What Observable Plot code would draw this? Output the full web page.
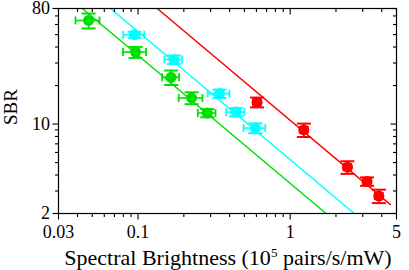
<!DOCTYPE html>
<html><head><meta charset="utf-8">
<script src="https://cdn.jsdelivr.net/npm/d3@7"></script>
<script src="https://cdn.jsdelivr.net/npm/@observablehq/plot@0.6"></script>
<style>body{margin:0;background:#fff} svg{display:block}</style>
</head><body><div id="chart"></div>
<script>
// ---- data ----
const greenX    = [0.0473, 0.0963, 0.165, 0.225, 0.285];
const greenY    = [64.5, 36.5, 23.2, 16.0, 12.2];
const greenXErr = [0.0085, 0.0166, 0.021, 0.040, 0.038];
const greenYErr = [8.6, 3.6, 3.0, 1.7, 0.9];

const cyanX    = [0.0949, 0.172, 0.343, 0.44, 0.59];
const cyanY    = [49.9, 31.9, 17.3, 12.4, 9.3];
const cyanXErr = [0.015, 0.023, 0.056, 0.060, 0.096];
const cyanYErr = [2.7, 2.4, 1.3, 0.93, 0.82];

const redX    = [0.606, 1.23, 2.38, 3.20, 3.83];
const redY    = [14.8, 9.0, 4.6, 3.56, 2.74];
const redXErr = [0.036, 0.074, 0.14, 0.19, 0.23];
const redYErr = [1.3, 1.08, 0.52, 0.27, 0.33];

// fit lines: SBR = a / x, drawn over [fitXStart, fitXEnd]
const fitNames  = ["green", "cyan", "red"];
const fitA      = [3.44, 5.27, 10.7];
const fitXStart = [0.03, 0.03, 0.03];
const fitXEnd   = [5, 5, 4.56];

const xMajorTicks  = [0.03, 0.1, 1, 5];
const xMajorLabels = ["0.03", "0.1", "1", "5"];
const xMinorTicks  = [0.04, 0.05, 0.06, 0.07, 0.08, 0.09, 0.2, 0.3, 0.4, 0.5, 0.6, 0.7, 0.8, 0.9, 2, 3, 4];
const yMajorTicks  = [2, 10, 80];
const yMajorLabels = ["2", "10", "80"];
const yMinorTicks  = [3, 4, 5, 6, 7, 8, 9, 20, 30, 40, 50, 60, 70];

const xLabel = ["Spectral Brightness (10", "5", " pairs/s/mW)"];
const yLabel = "SBR";

// ---- build tables ----
const colors = {green: "#00e000", cyan: "#00ffff", red: "#ff0000"};
const series = [
  {name: "green", x: greenX, y: greenY, xe: greenXErr, ye: greenYErr},
  {name: "cyan",  x: cyanX,  y: cyanY,  xe: cyanXErr,  ye: cyanYErr},
  {name: "red",   x: redX,   y: redY,   xe: redXErr,   ye: redYErr}
];
const pts = series.flatMap(s => s.x.map((x, i) => ({
  color: colors[s.name], x, y: s.y[i], x1: x - s.xe[i], x2: x + s.xe[i], y1: s.y[i] - s.ye[i], y2: s.y[i] + s.ye[i]
})));
const fitPts = fitNames.flatMap((n, i) => [fitXStart[i], fitXEnd[i]].map(x => ({color: colors[n], x, y: fitA[i] / x})));

// custom symbols
const hLine = {draw(ctx, size) { const w = Math.sqrt(size / Math.PI); ctx.moveTo(-w, 0); ctx.lineTo(w, 0); }};
const vLine = {draw(ctx, size) { const w = Math.sqrt(size / Math.PI); ctx.moveTo(0, -w); ctx.lineTo(0, w); }};
const tickDown = len => ({draw(ctx) { ctx.moveTo(0, 0); ctx.lineTo(0, len); }});
const tickLeft = len => ({draw(ctx) { ctx.moveTo(0, 0); ctx.lineTo(-len, 0); }});

const W = 409, H = 270, ML = 58, MR = 13, MT = 8, MB = 57;
const FONT = "Liberation Serif";
const tk = {stroke: "black", fill: "none", strokeWidth: 1.1};

const chart = Plot.plot({
  width: W, height: H,
  marginLeft: ML, marginRight: MR, marginTop: MT, marginBottom: MB,
  style: {fontFamily: FONT, fontSize: "18px", color: "black", background: "white"},
  x: {type: "log", domain: [0.03, 5], axis: null},
  y: {type: "log", domain: [2, 80], axis: null},
  marks: [
    // fit lines
    Plot.line(fitPts, {x: "x", y: "y", z: "color", stroke: "color", strokeWidth: 1.4, clip: true}),
    // error bars
    Plot.ruleY(pts, {y: "y", x1: "x1", x2: "x2", stroke: "color", strokeWidth: 1.6}),
    Plot.ruleX(pts, {x: "x", y1: "y1", y2: "y2", stroke: "color", strokeWidth: 1.6}),
    Plot.dot(pts, {x: "x1", y: "y", symbol: vLine, r: 4, fill: "none", stroke: "color", strokeWidth: 1.8}),
    Plot.dot(pts, {x: "x2", y: "y", symbol: vLine, r: 4, fill: "none", stroke: "color", strokeWidth: 1.8}),
    Plot.dot(pts, {x: "x", y: "y1", symbol: hLine, r: 7, fill: "none", stroke: "color", strokeWidth: 2}),
    Plot.dot(pts, {x: "x", y: "y2", symbol: hLine, r: 7, fill: "none", stroke: "color", strokeWidth: 2}),
    // markers
    Plot.dot(pts, {x: "x", y: "y", r: 5.5, fill: "color", stroke: null}),
    // frame
    Plot.frame({stroke: "black", strokeWidth: 1.2}),
    // bottom ticks (outward) and labels
    Plot.dot(xMajorTicks, {x: d => d, frameAnchor: "bottom", symbol: tickDown(6), ...tk}),
    Plot.dot(xMinorTicks, {x: d => d, frameAnchor: "bottom", symbol: tickDown(3.5), ...tk}),
    Plot.text(xMajorTicks, {x: d => d, frameAnchor: "bottom", lineAnchor: "top", dy: 11.5,
      text: (d, i) => xMajorLabels[i], fontSize: 18, fill: "black"}),
    // top mirror ticks (inward)
    Plot.dot(xMajorTicks, {x: d => d, frameAnchor: "top", symbol: tickDown(6), ...tk}),
    Plot.dot(xMinorTicks, {x: d => d, frameAnchor: "top", symbol: tickDown(3.5), ...tk}),
    // left ticks (outward) and labels
    Plot.dot(yMajorTicks, {y: d => d, frameAnchor: "left", symbol: tickLeft(6), ...tk}),
    Plot.dot(yMinorTicks, {y: d => d, frameAnchor: "left", symbol: tickLeft(3.5), ...tk}),
    Plot.text(yMajorTicks, {y: d => d, frameAnchor: "left", textAnchor: "end", dx: -8.5,
      text: (d, i) => yMajorLabels[i], fontSize: 18, fill: "black"}),
    // right mirror ticks (inward)
    Plot.dot(yMajorTicks, {y: d => d, frameAnchor: "right", symbol: tickLeft(6), ...tk}),
    Plot.dot(yMinorTicks, {y: d => d, frameAnchor: "right", symbol: tickLeft(3.5), ...tk})
  ]
});

const svg = d3.select(chart);
// x axis title with superscript
const xt = svg.append("text")
  .attr("x", 228).attr("y", 265)
  .attr("text-anchor", "middle")
  .style("font-family", FONT).style("font-size", "22px").attr("fill", "black");
xt.append("tspan").text(xLabel[0]);
xt.append("tspan").attr("dy", -8).style("font-size", "13px").text(xLabel[1]);
xt.append("tspan").attr("dy", 8).text(xLabel[2]);
// y axis title
svg.append("text")
  .attr("transform", `translate(17,107) rotate(-90)`)
  .attr("text-anchor", "middle")
  .style("font-family", FONT).style("font-size", "19px").attr("fill", "black")
  .text(yLabel);

document.getElementById("chart").appendChild(chart);
</script>
</body></html>
